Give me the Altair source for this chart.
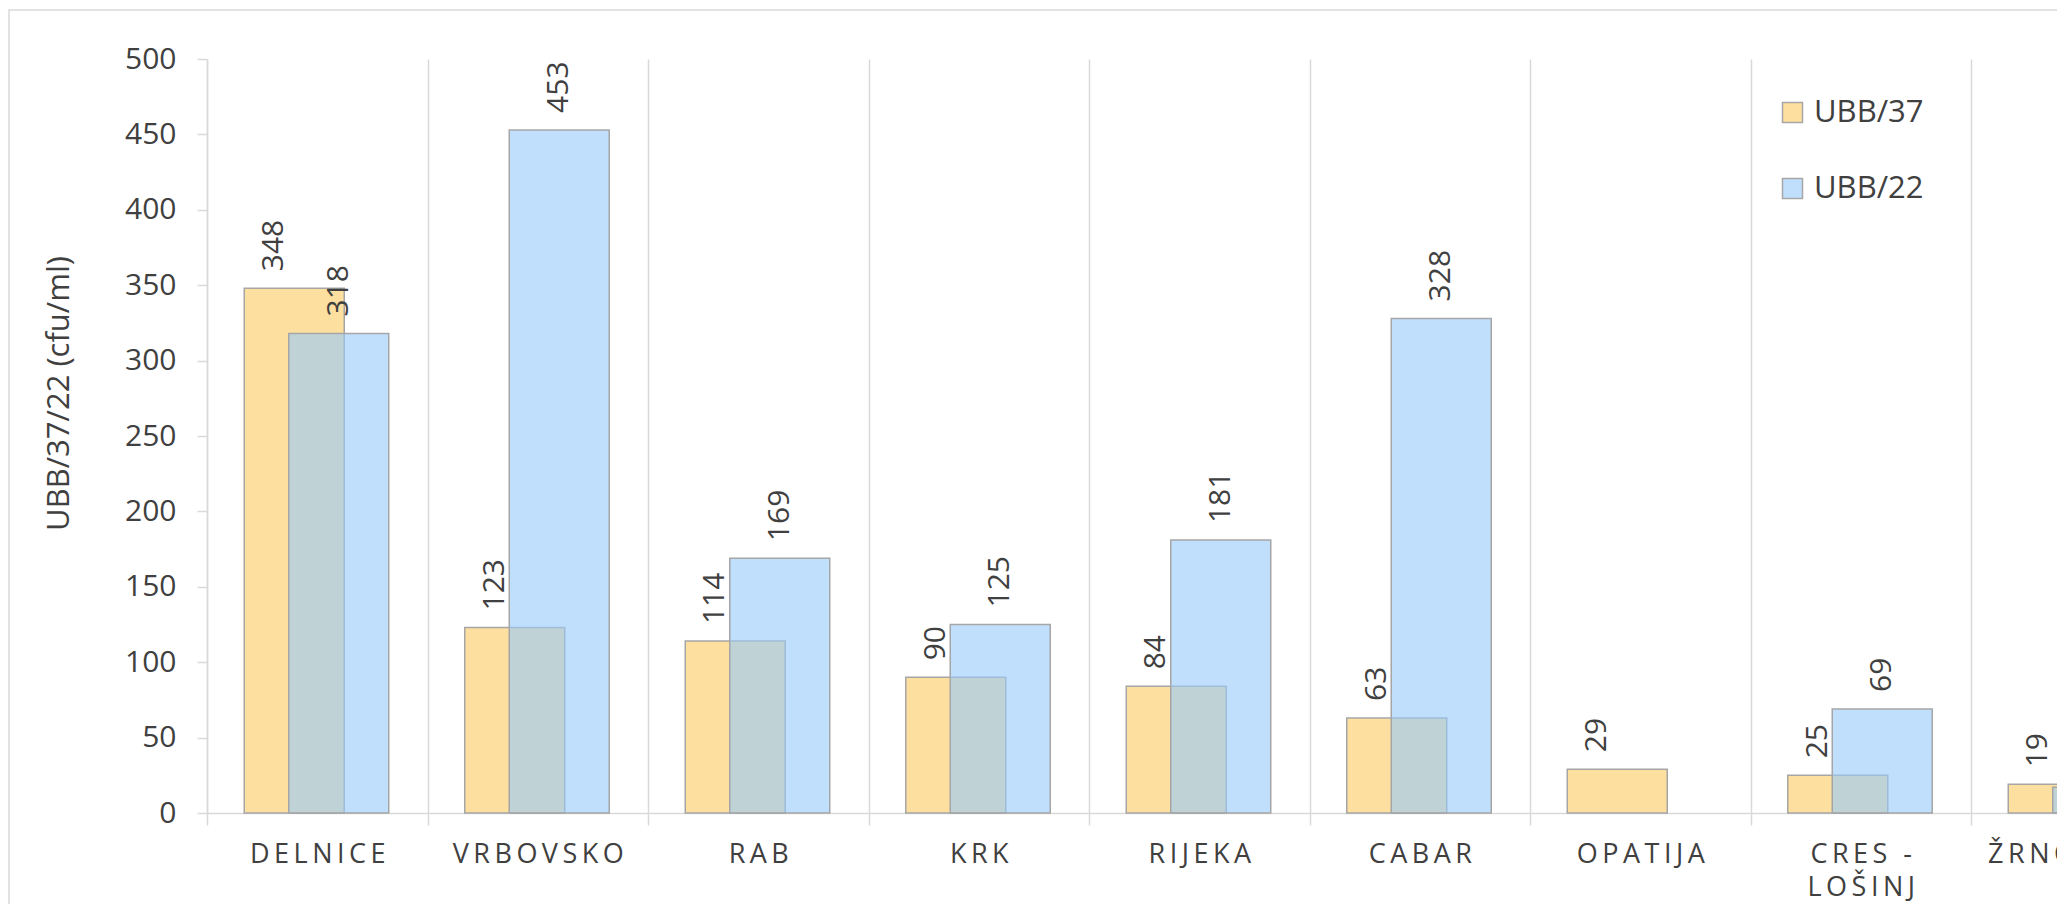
import altair as alt
import pandas as pd

# ---- data ----
places = ["DELNICE", "VRBOVSKO", "RAB", "KRK", "RIJEKA", "CABAR", "OPATIJA",
          "CRES - LOŠINJ", "ŽRNOVNICA"]
ubb37 = [348, 123, 114, 90, 84, 63, 29, 25, 19]
ubb22 = [318, 453, 169, 125, 181, 328, None, 69, 17]
series_names = ["UBB/37", "UBB/22"]
y_ticks = list(range(0, 501, 50))
y_title = "UBB/37/22 (cfu/ml)"

rows = []
for p, a, b in zip(places, ubb37, ubb22):
    rows.append({"place": p, "series": series_names[0], "value": a})
    if b is not None:
        rows.append({"place": p, "series": series_names[1], "value": b})
df = pd.DataFrame(rows)

# ---- styles ----
ORANGE = "#FDDF9F"
BLUE_FILL = "#98CAFA"      # drawn at 0.61 fill opacity over the orange bars
BLUE_SEEN = "#C0DFFC"      # how the blue looks over white (legend swatch)
FONT = "Open Sans"
TXT = "#404040"
GRID = "#D9D9D9"
EDGE = "#A6A6A6"
T = "\u2009"  # thin space imitating the letter tracking of the category labels


def spaced(e):
    return "join(split(" + e + ", ''), '" + T + "')"


label_expr = (
    "indexof(datum.label, ' - ') >= 0 ? ["
    + spaced("slice(datum.label, 0, indexof(datum.label, ' - ') + 2)")
    + ", "
    + spaced("slice(datum.label, indexof(datum.label, ' - ') + 3)")
    + "] : "
    + spaced("datum.label")
)

x_axis = alt.Axis(
    title=None, labelAngle=0, labelFont=FONT, labelFontSize=27, labelColor=TXT,
    labelPadding=16, labelExpr=label_expr, labelLineHeight=33, labelLimit=600,
    labelOverlap=False, labelBound=False, labelFlush=False,
    domainColor=GRID, domainWidth=1.5, tickColor=GRID, tickWidth=1.5, tickSize=12,
    tickBand="extent", grid=True, gridColor=GRID, gridWidth=1.5,
)
y_axis = alt.Axis(
    title=y_title, values=y_ticks, grid=False, labelFont=FONT, labelFontSize=30,
    labelColor=TXT, labelPadding=21, domainColor=GRID, domainWidth=1.5,
    tickColor=GRID, tickWidth=1.5, tickSize=10, titleFont=FONT, titleFontSize=31,
    titleFontWeight="normal", titleColor=TXT, titleX=-132, titleY=334,
    titleAlign="center", titleBaseline="bottom", titleAngle=270,
)

X = alt.X("place:N", sort=places, axis=x_axis,
          scale=alt.Scale(domain=places, range=[0, 1984.5], paddingInner=0, paddingOuter=0))
Y = alt.Y("value:Q", axis=y_axis, scale=alt.Scale(domain=[0, 500], nice=False, zero=True))

base = alt.Chart(df)

frame = alt.Chart(alt.Data(values=[{}])).mark_rect(
    fill="transparent", stroke=GRID, strokeWidth=1.5
).encode(x=alt.value(-198), x2=alt.value(2100), y=alt.value(-49), y2=alt.value(1000))

bars37 = base.transform_filter(alt.datum.series == series_names[0]).mark_bar(
    size=100, xOffset=-23, fill=ORANGE, stroke=EDGE, strokeWidth=1.5
).encode(x=X, y=Y)

bars22 = base.transform_filter(alt.datum.series == series_names[1]).mark_bar(
    size=100, xOffset=21.5, fill=BLUE_FILL, fillOpacity=0.61, stroke=EDGE, strokeWidth=1.5
).encode(x=X, y=Y)

lab37 = base.transform_filter(alt.datum.series == series_names[0]).mark_text(
    angle=270, align="left", baseline="middle", font=FONT, fontSize=30, color=TXT,
    xOffset=-43, yOffset=-17
).encode(x=X, y=Y, text="value:Q")

lab22 = base.transform_filter(alt.datum.series == series_names[1]).mark_text(
    angle=270, align="left", baseline="middle", font=FONT, fontSize=30, color=TXT,
    xOffset=21.5, yOffset=-17
).encode(x=X, y=Y, text="value:Q")

# legend-only layer (no rows are drawn), giving the swatches their seen colours
legend_layer = base.transform_filter("false").mark_square(
    filled=True, opacity=1, stroke=EDGE, strokeWidth=1.5
).encode(
    color=alt.Color("series:N",
                    scale=alt.Scale(domain=series_names, range=[ORANGE, BLUE_SEEN]),
                    legend=alt.Legend(title=None)),
)

chart = alt.layer(frame, bars37, bars22, lab37, lab22, legend_layer).properties(
    width=1850, height=754,
    autosize=alt.AutoSizeParams(type="none"),
    padding={"left": 199, "top": 51, "right": 0, "bottom": 91},
).configure_view(strokeWidth=0).configure_legend(
    orient="none", legendX=1570, legendY=38, symbolType="square", symbolSize=400,
    symbolStrokeColor=EDGE, symbolStrokeWidth=1.5, symbolOpacity=1, labelFont=FONT,
    labelFontSize=31, labelColor=TXT, rowPadding=44, labelOffset=6, padding=0,
)

chart.save("out.html", embed_options={"renderer": "svg", "actions": False})
